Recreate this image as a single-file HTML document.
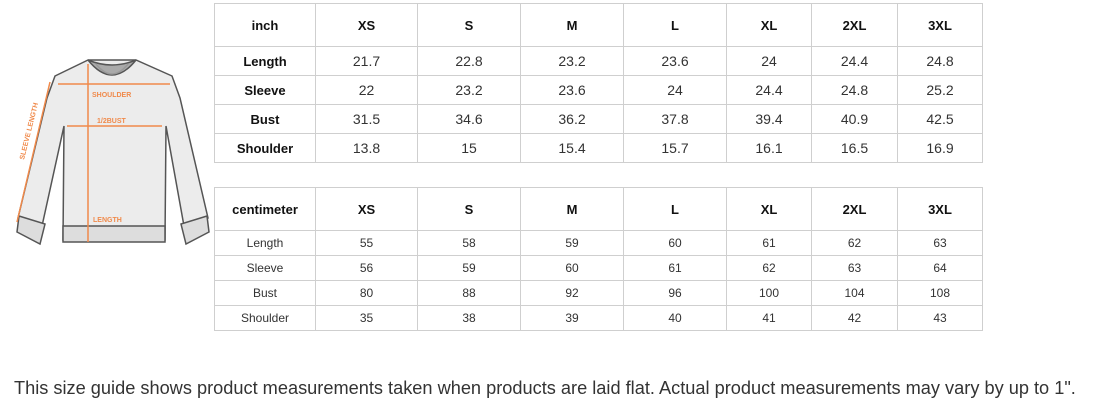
<!DOCTYPE html>
<html><head><meta charset="utf-8"><style>
body{margin:0;width:1112px;height:407px;background:#fff;position:relative;font-family:"Liberation Sans",Arial,sans-serif;overflow:hidden}
table{position:absolute;left:214px;border-collapse:collapse;table-layout:fixed;color:#222}
td{border:1px solid #cfcfcf;text-align:center;padding:0}
.t1 td{font-size:14px;color:#333}
.t1 tr.h td{height:42px;font-size:13px;font-weight:bold;color:#111}
.t1 tr.r td{height:28px}
.t2 td{font-size:12px;color:#333}
.t2 tr.h td{height:42px;font-size:13px;font-weight:bold;color:#111}
.t2 tr.r td{height:24px}
td.b{font-weight:bold;color:#111;font-size:13px !important}
.foot{position:absolute;left:14px;top:378px;font-size:18.2px;color:#333;white-space:nowrap}
</style></head><body>
<svg width="214" height="250" style="position:absolute;left:0;top:0">
<g stroke="#555" stroke-width="1.5" fill="#ececec">
<path d="M88 60 L55 76 L47 98 L18 218 L42 226 L64 126 L63 240 L165 240 L166 126 L184 226 L208 218 L180 98 L172 76 L136 60 Z"/>
<path d="M19 216 L17 232 L40 244 L45 224 Z" fill="#ddd"/>
<path d="M207 216 L209 232 L186 244 L181 224 Z" fill="#ddd"/>
<rect x="63" y="226" width="102" height="16" fill="#ddd"/>
<path d="M88 60 Q112 90 136 60 Q112 70 88 60Z" fill="#aaa"/>
<path d="M96 64 Q112 84 128 64" fill="none" stroke="#999"/>
</g>
<g stroke="#f08a4b" stroke-width="1.5" fill="none">
<line x1="58" y1="84" x2="170" y2="84"/>
<line x1="67" y1="126" x2="162" y2="126"/>
<line x1="88" y1="64" x2="88" y2="242" />
<line x1="50" y1="82" x2="17" y2="222"/>
</g>
<g fill="#f08a4b" font-size="7" font-weight="bold" font-family="Liberation Sans,sans-serif">
<text x="92" y="97">SHOULDER</text>
<text x="97" y="123">1/2BUST</text>
<text x="93" y="222">LENGTH</text>
<text transform="translate(24 160) rotate(-76)">SLEEVE LENGTH</text>
</g>
</svg>
<table class="t1" style="top:3px">
<colgroup><col style="width:101px"><col style="width:102px"><col style="width:103px"><col style="width:103px"><col style="width:103px"><col style="width:85px"><col style="width:86px"><col style="width:85px"></colgroup>
<tr class="h"><td>inch</td><td>XS</td><td>S</td><td>M</td><td>L</td><td>XL</td><td>2XL</td><td>3XL</td></tr>
<tr class="r"><td class="b">Length</td><td>21.7</td><td>22.8</td><td>23.2</td><td>23.6</td><td>24</td><td>24.4</td><td>24.8</td></tr>
<tr class="r"><td class="b">Sleeve</td><td>22</td><td>23.2</td><td>23.6</td><td>24</td><td>24.4</td><td>24.8</td><td>25.2</td></tr>
<tr class="r"><td class="b">Bust</td><td>31.5</td><td>34.6</td><td>36.2</td><td>37.8</td><td>39.4</td><td>40.9</td><td>42.5</td></tr>
<tr class="r"><td class="b">Shoulder</td><td>13.8</td><td>15</td><td>15.4</td><td>15.7</td><td>16.1</td><td>16.5</td><td>16.9</td></tr>
</table>
<table class="t2" style="top:187px">
<colgroup><col style="width:101px"><col style="width:102px"><col style="width:103px"><col style="width:103px"><col style="width:103px"><col style="width:85px"><col style="width:86px"><col style="width:85px"></colgroup>
<tr class="h"><td>centimeter</td><td>XS</td><td>S</td><td>M</td><td>L</td><td>XL</td><td>2XL</td><td>3XL</td></tr>
<tr class="r"><td>Length</td><td>55</td><td>58</td><td>59</td><td>60</td><td>61</td><td>62</td><td>63</td></tr>
<tr class="r"><td>Sleeve</td><td>56</td><td>59</td><td>60</td><td>61</td><td>62</td><td>63</td><td>64</td></tr>
<tr class="r"><td>Bust</td><td>80</td><td>88</td><td>92</td><td>96</td><td>100</td><td>104</td><td>108</td></tr>
<tr class="r"><td>Shoulder</td><td>35</td><td>38</td><td>39</td><td>40</td><td>41</td><td>42</td><td>43</td></tr>
</table>
<div class="foot">This size guide shows product measurements taken when products are laid flat. Actual product measurements may vary by up to 1".</div>
</body></html>
